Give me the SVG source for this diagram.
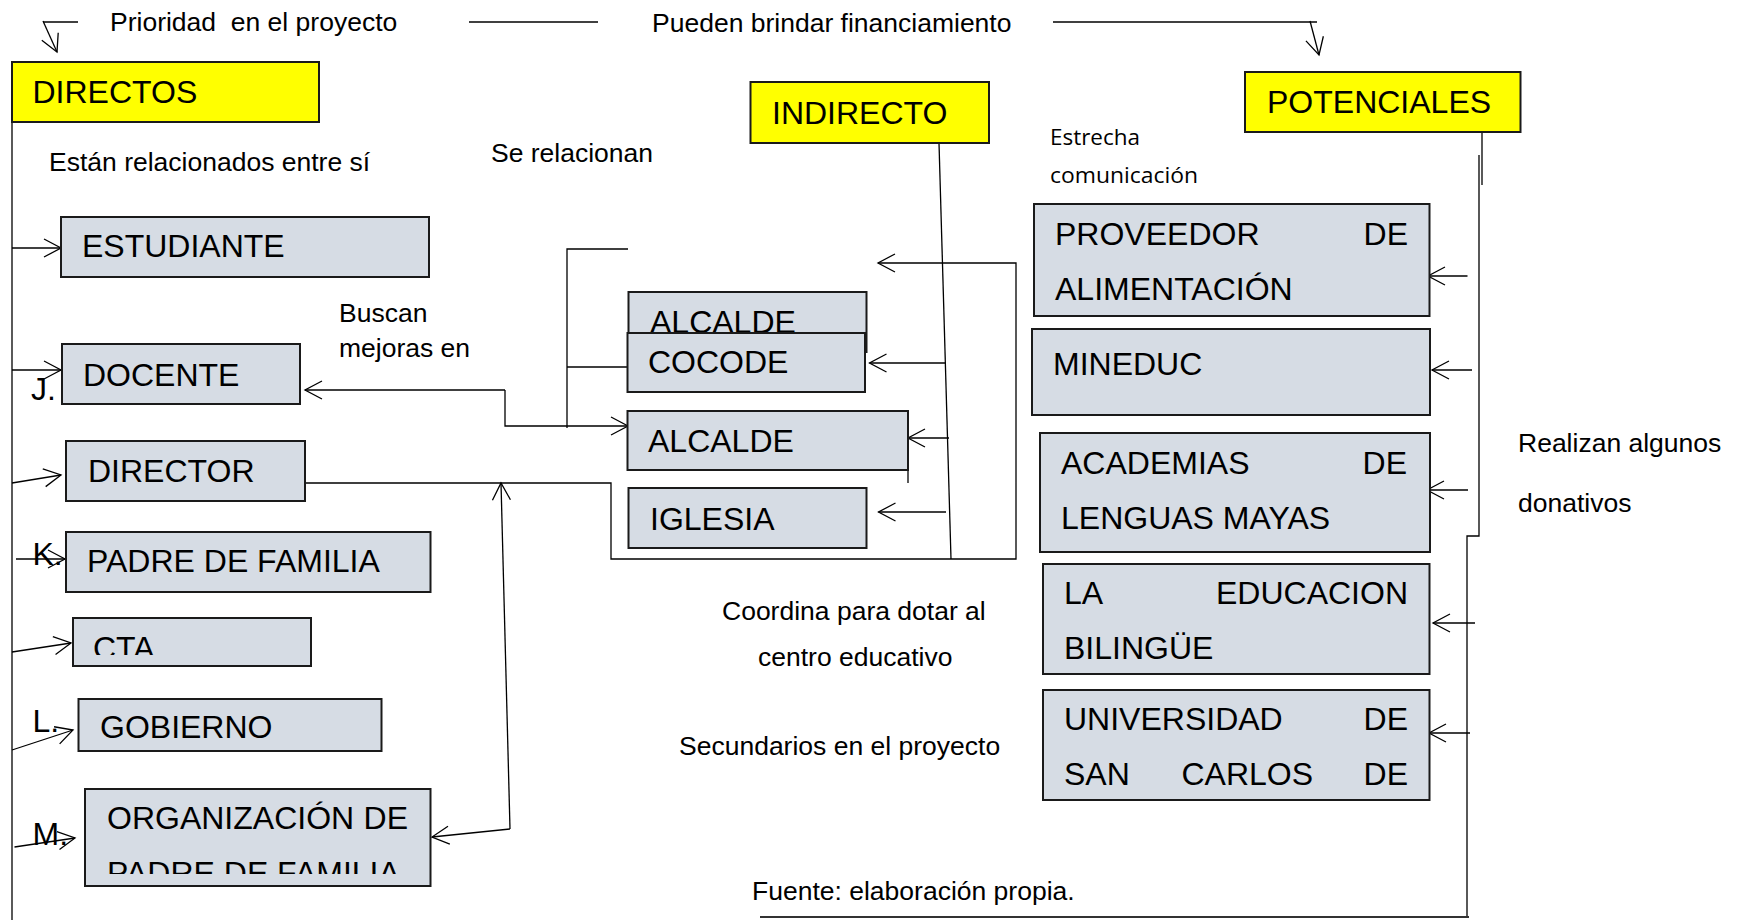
<svg xmlns="http://www.w3.org/2000/svg" width="1737" height="920" viewBox="0 0 1737 920">
<style>
  .box { fill: #D6DCE4; stroke: #1a1a1a; stroke-width: 2; }
  .ybox { fill: #FFFF00; stroke: #1a1a1a; stroke-width: 2; }
  .bt { font-family: "Liberation Sans", Arial, sans-serif; font-size: 32px; fill: #000; }
  .lb { font-family: "Liberation Sans", Arial, sans-serif; font-size: 26.5px; fill: #000; }
  .cal { font-family: "Open Sans", "Noto Sans", sans-serif; font-size: 22px; fill: #000; }
  .ln { fill: none; stroke: #000; stroke-width: 1.3; }
  .arr { fill: none; stroke: #000; stroke-width: 1.3; marker-end: url(#ah); }
</style>
<defs>
  <marker id="ah" viewBox="-20 -12 22 24" markerWidth="22" markerHeight="24" refX="0" refY="0" orient="auto" markerUnits="userSpaceOnUse">
    <path d="M-17,-9 L0,0 L-17,9" fill="none" stroke="#000" stroke-width="1.3"/>
  </marker>
  <clipPath id="clipCTA"><rect x="60" y="600" width="260" height="55"/></clipPath>
  <clipPath id="clipORG"><rect x="80" y="780" width="360" height="94"/></clipPath>
</defs>
<rect width="1737" height="920" fill="#fff"/>

<g id="connectors">
  <!-- top -->
  <path class="ln" d="M43,22 H78"/>
  <path class="arr" d="M43,21 L57,52"/>
  <path class="ln" d="M469,22 H598"/>
  <path class="ln" d="M1053,22 H1317"/>
  <path class="arr" d="M1310,21 L1319,55"/>
  <!-- left trunk -->
  <path class="ln" d="M12,122 V920"/>
  <path class="arr" d="M12,248 H61"/>
  <path class="arr" d="M12,370 H61"/>
  <path class="arr" d="M12,483 L61,475"/>
  <path class="arr" d="M16,559 H65"/>
  <path class="arr" d="M12,652 L71,643"/>
  <path class="arr" d="M12,750 L73,730"/>
  <path class="arr" d="M14.5,847 L75,838"/>
  <!-- middle -->
  <path class="arr" d="M505,390 H305"/>
  <path class="arr" d="M505,390 V426 H628"/>
  <path class="ln" d="M628,249 H567 V428"/>
  <path class="ln" d="M567,367 H630"/>
  <path class="arr" d="M302,483 H611 V559 H1016 V263 H878"/>
  <path class="arr" d="M510,829 L501,483"/>
  <path class="arr" d="M510,829 L432,837"/>
  <path class="ln" d="M939,143 L951,559"/>
  <path class="arr" d="M946,363 H869.5"/>
  <path class="arr" d="M949,438 H908"/>
  <path class="arr" d="M946,512 H878.5"/>
  <path class="ln" d="M908,470 V483"/>
  <!-- right -->
  <path class="ln" d="M1482,130 V185"/>
  <path class="ln" d="M1479,155 V536 H1467 V917"/>
  <path d="M1469,917 H760" fill="none" stroke="#333" stroke-width="2"/>
  <path class="arr" d="M1467.5,276 H1428"/>
  <path class="arr" d="M1472,370 H1432"/>
  <path class="arr" d="M1468,490 H1427"/>
  <path class="arr" d="M1475,623 H1433"/>
  <path class="arr" d="M1470,733 H1429"/>
</g>

<g id="directos">
  <rect class="ybox" x="12" y="62" width="307" height="60"/>
  <text class="bt" x="32.5" y="103">DIRECTOS</text>
</g>
<g id="indirecto">
  <rect class="ybox" x="750.5" y="82" width="238.5" height="61"/>
  <text class="bt" x="772" y="124">INDIRECTO</text>
</g>
<g id="potenciales">
  <rect class="ybox" x="1245" y="72" width="275.5" height="60"/>
  <text class="bt" x="1267" y="113">POTENCIALES</text>
</g>

<g id="estudiante">
  <rect class="box" x="61" y="217" width="368" height="60"/>
  <text class="bt" x="82" y="257">ESTUDIANTE</text>
</g>
<g id="docente">
  <rect class="box" x="62" y="344" width="238" height="60"/>
  <text class="bt" x="83" y="386">DOCENTE</text>
</g>
<g id="director">
  <rect class="box" x="66" y="441" width="239" height="60"/>
  <text class="bt" x="88" y="482">DIRECTOR</text>
</g>
<g id="padre">
  <rect class="box" x="66" y="532" width="364.5" height="60"/>
  <text class="bt" x="87" y="572">PADRE DE FAMILIA</text>
</g>
<g id="cta">
  <rect class="box" x="73" y="618" width="238" height="48"/>
  <text class="bt" x="93" y="659" clip-path="url(#clipCTA)">CTA</text>
</g>
<g id="gobierno">
  <rect class="box" x="78.5" y="699" width="303" height="52"/>
  <text class="bt" x="100" y="738">GOBIERNO</text>
</g>
<g id="organizacion">
  <rect class="box" x="85" y="789" width="345.5" height="97"/>
  <text class="bt" y="829"><tspan x="107">ORGANIZACIÓN</tspan><tspan x="408" text-anchor="end">DE</tspan></text>
  <text class="bt" x="107" y="884" clip-path="url(#clipORG)">PADRE DE FAMILIA</text>
</g>

<g id="alcalde1">
  <rect class="box" x="628.5" y="292" width="238" height="60"/>
  <text class="bt" x="650" y="333">ALCALDE</text>
</g>
<g id="cocode">
  <rect class="box" x="627.5" y="333" width="237.5" height="59"/>
  <text class="bt" x="648" y="373">COCODE</text>
</g>
<g id="alcalde2">
  <rect class="box" x="627.5" y="411" width="280.5" height="59"/>
  <text class="bt" x="648" y="452">ALCALDE</text>
</g>
<g id="iglesia">
  <rect class="box" x="628.5" y="488" width="238" height="60"/>
  <text class="bt" x="650" y="530">IGLESIA</text>
</g>

<g id="proveedor">
  <rect class="box" x="1034" y="204" width="395.5" height="112"/>
  <text class="bt" y="245"><tspan x="1055">PROVEEDOR</tspan><tspan x="1408" text-anchor="end">DE</tspan></text>
  <text class="bt" x="1055" y="300">ALIMENTACIÓN</text>
</g>
<g id="mineduc">
  <rect class="box" x="1032" y="329" width="398" height="86"/>
  <text class="bt" x="1053" y="375">MINEDUC</text>
</g>
<g id="academias">
  <rect class="box" x="1040" y="433" width="390" height="119"/>
  <text class="bt" y="474"><tspan x="1061">ACADEMIAS</tspan><tspan x="1407" text-anchor="end">DE</tspan></text>
  <text class="bt" x="1061" y="529">LENGUAS MAYAS</text>
</g>
<g id="educacion">
  <rect class="box" x="1043" y="564" width="386.5" height="110"/>
  <text class="bt" y="604"><tspan x="1064">LA</tspan><tspan x="1408" text-anchor="end">EDUCACION</tspan></text>
  <text class="bt" x="1064" y="659">BILINGÜE</text>
</g>
<g id="universidad">
  <rect class="box" x="1043" y="690" width="386.5" height="110"/>
  <text class="bt" y="730"><tspan x="1064">UNIVERSIDAD</tspan><tspan x="1408" text-anchor="end">DE</tspan></text>
  <text class="bt" y="785"><tspan x="1064">SAN</tspan><tspan x="1181.5">CARLOS</tspan><tspan x="1408" text-anchor="end">DE</tspan></text>
</g>

<g id="labels">
  <text class="lb" x="110" y="31" xml:space="preserve">Prioridad  en el proyecto</text>
  <text class="lb" x="652" y="32">Pueden brindar financiamiento</text>
  <text class="lb" x="49" y="171">Están relacionados entre sí</text>
  <text class="lb" x="491" y="162">Se relacionan</text>
  <text class="cal" x="1050" y="145" textLength="90" lengthAdjust="spacingAndGlyphs">Estrecha</text>
  <text class="cal" x="1050" y="183" textLength="148" lengthAdjust="spacingAndGlyphs">comunicación</text>
  <text class="lb" x="339" y="322">Buscan</text>
  <text class="lb" x="339" y="357">mejoras en</text>
  <text class="bt" x="31" y="400">J.</text>
  <text class="bt" x="32.5" y="565">K.</text>
  <text class="bt" x="32.5" y="732">L.</text>
  <text class="bt" x="32.5" y="845">M.</text>
  <text class="lb" x="1518" y="452">Realizan algunos</text>
  <text class="lb" x="1518" y="512">donativos</text>
  <text class="lb" x="722" y="620">Coordina para dotar al</text>
  <text class="lb" x="758" y="666">centro educativo</text>
  <text class="lb" x="679" y="755">Secundarios en el proyecto</text>
  <text class="lb" x="752" y="900">Fuente: elaboración propia.</text>
</g>
</svg>
